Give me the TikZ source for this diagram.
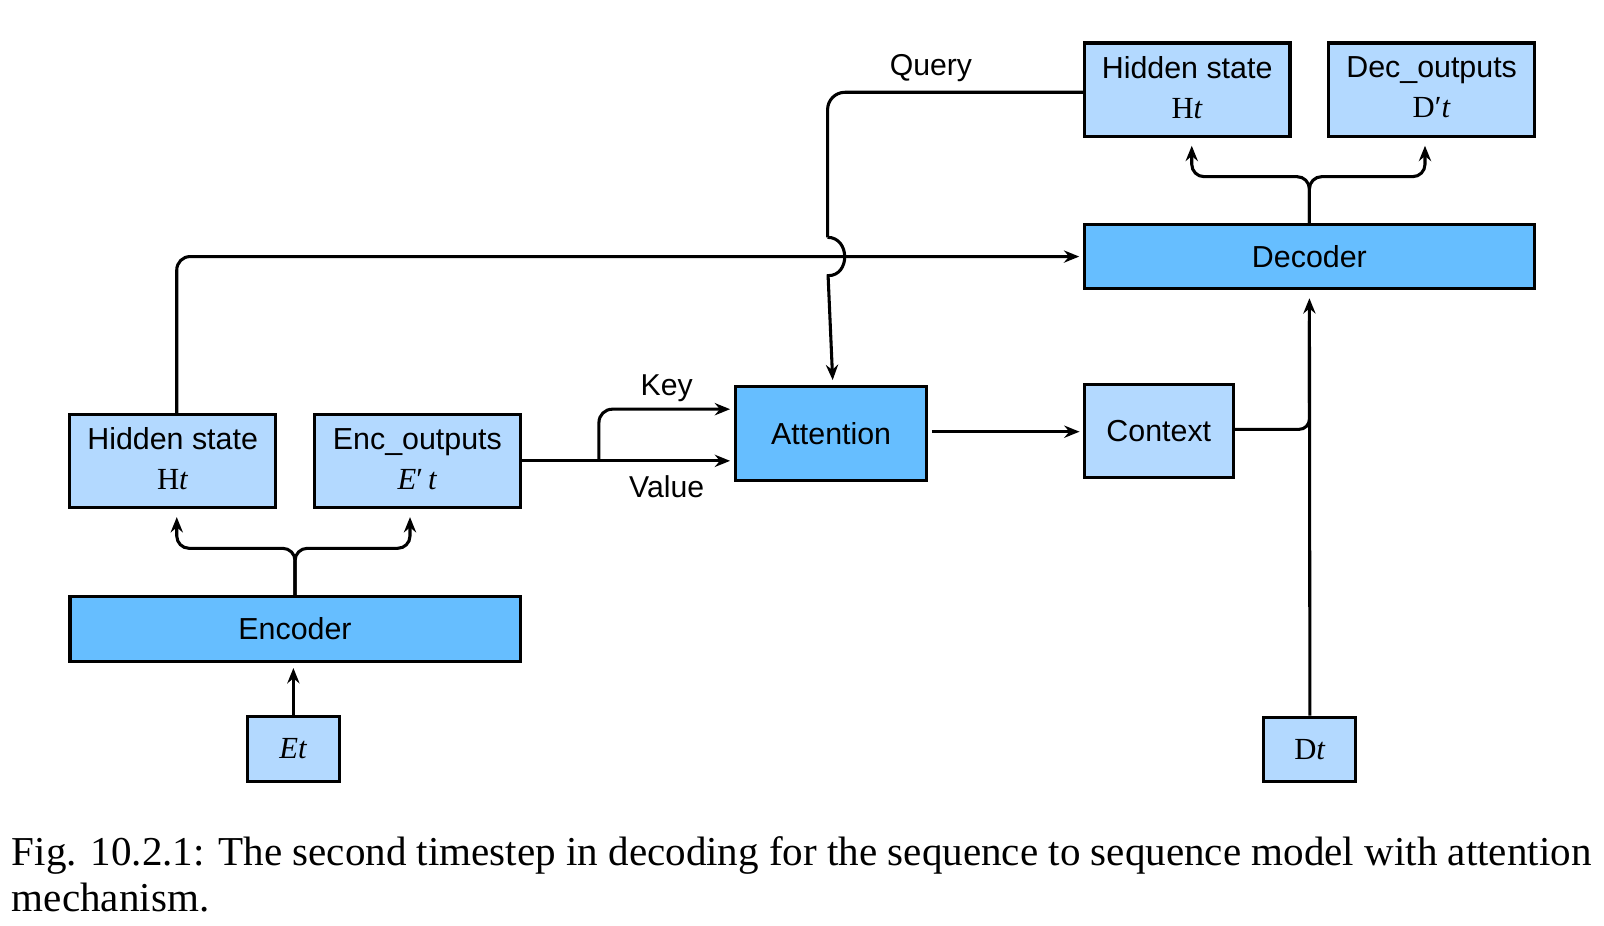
\documentclass[tikz,border=0pt]{standalone}
\usepackage{graphicx}
\usepackage{fontspec}
\usetikzlibrary{arrows.meta}
\newfontfamily\lsans{Liberation Sans}
\newfontfamily\lser{Liberation Serif}
\definecolor{lightb}{RGB}{179,217,255}
\definecolor{darkb}{RGB}{102,190,255}
\newsavebox\capAbox
\newlength\capAw
\begin{document}
\sbox\capAbox{\lser\fontsize{10}{12}\selectfont Fig. 10.2.1: The second timestep in decoding for the sequence to sequence model with attention}%
\setlength\capAw{\wd\capAbox}%
\begin{tikzpicture}[x=1pt,y=-1pt,
  box/.style={draw=black, line width=3pt, inner sep=0pt, align=center, font=\lsans\fontsize{29.7}{39}\selectfont},
  lbox/.style={box, fill=lightb},
  dbox/.style={box, fill=darkb},
  two/.style={lbox, minimum width=201pt, minimum height=91pt, text depth=4pt},
  ln/.style={line width=3pt},
  arr/.style={line width=3pt, -{Stealth[length=15pt,width=12pt,inset=5pt]}},
  lab/.style={font=\lsans\fontsize{29.5}{34}\selectfont, inner sep=0pt, anchor=base},
  mth/.style={font=\lser\fontsize{30}{38}\selectfont}
]
\useasboundingbox (0,0) rectangle (1568,905.2);

% boxes
\node[two] (decH) at (1160.5,87.5)
  {Hidden state\\{\lser\fontsize{30}{39}\selectfont H\textit{t}}};
\node[two] (decO) at (1399.5,87.5)
  {Dec\_outputs\\{\lser\fontsize{30}{39}\selectfont D′\textit{t}}};
\node[dbox, minimum width=440pt, minimum height=62.5pt] (dec) at (1280,250.8) {Decoder};
\node[dbox, minimum width=187pt, minimum height=91.5pt] (att) at (812.5,423.6) {Attention};
\node[lbox, minimum width=146pt, minimum height=91pt] (ctx) at (1132.8,421.2) {Context};
\node[two] (encH) at (168.8,450.5)
  {Hidden state\\{\lser\fontsize{30}{39}\selectfont H\textit{t}}};
\node[two] (encO) at (408,450.5)
  {Enc\_outputs\\{\lser\fontsize{30}{39}\selectfont\textit{E}′\,\textit{t}}};
\node[dbox, minimum width=440pt, minimum height=63.5pt] (enc) at (288.4,614.8) {Encoder};
\node[lbox, minimum width=90pt, minimum height=63pt, mth] (Et) at (286.8,732) {\textit{Et}};
\node[lbox, minimum width=90pt, minimum height=63pt, mth] (Dt) at (1280.5,732.5) {D\textit{t}};

% labels
\node[lab] (key) at (651.7,387) {Key};
\node[lab] (val) at (651.7,486.4) {Value};
\node[lab] (qry) at (910,73.8) {Query};

% encoder connectors
\coordinate (encsplit) at (287,536);
\draw[arr] (Et.north) -- ([yshift=-5pt]Et.north |- enc.south);
\draw[arr, rounded corners=12pt] (enc.north) -- (enc.north |- encsplit) -| ([xshift=4pt,yshift=-8pt]encH.south);
\draw[arr, rounded corners=12pt] (enc.north) -- (enc.north |- encsplit) -| ([xshift=-7.2pt,yshift=-8pt]encO.south);

% hidden state to decoder
\draw[arr, rounded corners=13pt] ([xshift=4pt]encH.north) |- ([xshift=-3.5pt]dec.west);

% key / value
\coordinate (kv) at (585.5,450.5);
\coordinate (keyy) at (0,400);
\draw[arr] (encO.east) -- ([xshift=-3.8pt]att.west |- encO.east);
\draw[arr, rounded corners=13pt] (kv) |- ([xshift=-3.8pt]att.west |- keyy);

% query with hop
\coordinate (hopT) at (809,232);
\coordinate (hopB) at (809.5,269.5);
\draw[ln, rounded corners=17pt] ([yshift=-2.7pt]decH.west) -| (hopT);
\draw[arr] (hopT) .. controls (831,232) and (831.5,269.5) .. (hopB) -- ([xshift=1.5pt,yshift=4.8pt]att.north);

% attention to context
\coordinate (acy) at (0,422);
\draw[arr] ([xshift=3.5pt]att.east |- acy) -- ([xshift=-3pt]ctx.west |- acy);

% context and D_t to decoder
\draw[ln, rounded corners=10pt] ([yshift=1.5pt]ctx.east) -| ([yshift=-30pt]dec.south);
\draw[arr] (Dt.north) -- ([yshift=-8pt]dec.south);

% decoder split
\coordinate (decsplit) at (1279.5,172.7);
\draw[arr, rounded corners=12pt] (dec.north) -- (dec.north |- decsplit) -| ([xshift=4.5pt,yshift=-8pt]decH.south);
\draw[arr, rounded corners=12pt] (dec.north) -- (dec.north |- decsplit) -| ([xshift=-6.5pt,yshift=-8pt]decO.south);

% caption
\pgfmathsetmacro\capf{1544/\capAw}
\node[anchor=base west, inner sep=0pt] (cap1) at (11.5,846) {\scalebox{\capf}{\usebox\capAbox}};
\node[anchor=base west, inner sep=0pt] (cap2) at (11.5,891) {\scalebox{\capf}{\lser\fontsize{10}{12}\selectfont mechanism.}};
\end{tikzpicture}
\end{document}
